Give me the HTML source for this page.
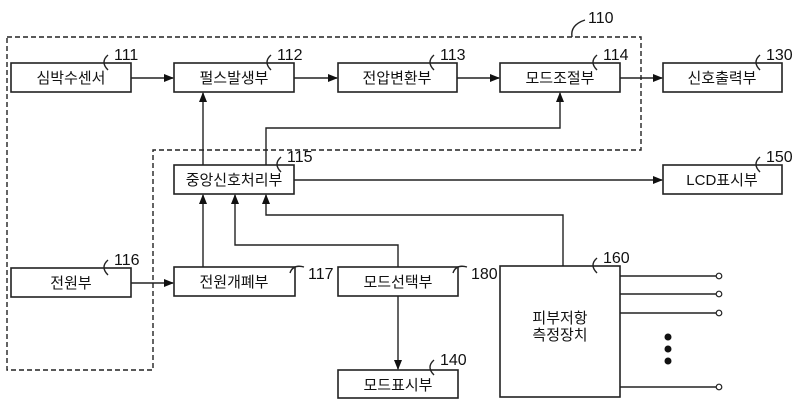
<!DOCTYPE html>
<html><head><meta charset="utf-8"><style>
html,body{margin:0;padding:0;background:#fff;}
svg{display:block;}
text{font-family:"Liberation Sans","Noto Sans CJK KR",sans-serif;fill:#111;}
.b{fill:#fff;stroke:#222;stroke-width:1.6;}
.l{fill:none;stroke:#222;stroke-width:1.4;}
.d{fill:none;stroke:#222;stroke-width:1.4;stroke-dasharray:5,3;}
.t{font-size:15px;text-anchor:middle;}
.n{font-size:16px;}
</style></head><body>
<svg width="800" height="419" viewBox="0 0 800 419" xmlns="http://www.w3.org/2000/svg">
<defs><marker id="a" markerWidth="10" markerHeight="8" refX="9" refY="4" orient="auto" markerUnits="userSpaceOnUse"><path d="M0,0 L10,4 L0,8 z" fill="#111"/></marker></defs>
<path class="d" d="M7,37 H641 V150 H153 V256 L153,370 H7 Z"/>
<path class="l" d="M572,37 Q570,25 585,20"/><text class="n" x="588" y="23">110</text>
<rect class="b" x="11" y="63" width="120" height="29"/><text class="t" x="71" y="83">심박수센서</text>
<rect class="b" x="174" y="63" width="120" height="29"/><text class="t" x="234" y="83">펄스발생부</text>
<rect class="b" x="338" y="63" width="119" height="29"/><text class="t" x="397" y="83">전압변환부</text>
<rect class="b" x="500" y="63" width="120" height="29"/><text class="t" x="560" y="83">모드조절부</text>
<rect class="b" x="663" y="63" width="119" height="29"/><text class="t" x="722" y="83">신호출력부</text>
<rect class="b" x="174" y="165" width="120" height="29"/><text class="t" x="234" y="185">중앙신호처리부</text>
<rect class="b" x="663" y="165" width="119" height="29"/><text class="t" x="722" y="185">LCD표시부</text>
<rect class="b" x="11" y="268" width="120" height="29"/><text class="t" x="71" y="288">전원부</text>
<rect class="b" x="174" y="267" width="121" height="29"/><text class="t" x="234" y="287">전원개폐부</text>
<rect class="b" x="338" y="267" width="120" height="29"/><text class="t" x="398" y="287">모드선택부</text>
<rect class="b" x="338" y="370" width="120" height="28"/><text class="t" x="398" y="390">모드표시부</text>
<rect class="b" x="500" y="266" width="120" height="131"/>
<text class="t" x="560" y="323">피부저항</text><text class="t" x="560" y="340">측정장치</text>
<g class="l">
<path d="M108,70 Q100,62 108,55"/><path d="M271,70 Q263,62 271,55"/><path d="M434,70 Q426,62 434,55"/>
<path d="M597,70 Q589,62 597,55"/><path d="M760,70 Q752,62 760,55"/><path d="M281,172 Q273,164 281,157"/>
<path d="M760,172 Q752,164 760,157"/><path d="M108,275 Q100,267 108,260"/><path d="M290,273 Q293,264 304,267"/>
<path d="M453,273 Q456,264 467,267"/><path d="M434,375 Q426,367 434,360"/><path d="M597,273 Q589,265 597,258"/>
</g>
<text class="n" x="114" y="60">111</text><text class="n" x="277" y="60">112</text><text class="n" x="440" y="60">113</text>
<text class="n" x="603" y="60">114</text><text class="n" x="766" y="60">130</text><text class="n" x="287" y="162">115</text>
<text class="n" x="766" y="162">150</text><text class="n" x="114" y="265">116</text><text class="n" x="308" y="279">117</text>
<text class="n" x="471" y="279">180</text><text class="n" x="440" y="365">140</text><text class="n" x="603" y="263">160</text>
<g class="l">
<path d="M131,78 H173" marker-end="url(#a)"/>
<path d="M294,78 H337" marker-end="url(#a)"/>
<path d="M457,78 H499" marker-end="url(#a)"/>
<path d="M620,78 H662" marker-end="url(#a)"/>
<path d="M203,165 V93" marker-end="url(#a)"/>
<path d="M266,165 V128 H560 V93" marker-end="url(#a)"/>
<path d="M294,180 H662" marker-end="url(#a)"/>
<path d="M203,267 V195" marker-end="url(#a)"/>
<path d="M398,267 V245 H235 V195" marker-end="url(#a)"/>
<path d="M563,266 V215 H266 V195" marker-end="url(#a)"/>
<path d="M131,283 H173" marker-end="url(#a)"/>
<path d="M398,296 V369" marker-end="url(#a)"/>
<path d="M620,276 H716 M620,294 H716 M620,313 H716 M620,387 H716"/>
</g>
<g fill="#fff" stroke="#222" stroke-width="1.2">
<circle cx="719" cy="276" r="2.8"/><circle cx="719" cy="294" r="2.8"/><circle cx="719" cy="313" r="2.8"/><circle cx="719" cy="387" r="2.8"/>
</g>
<g fill="#111"><circle cx="668" cy="337" r="3.5"/><circle cx="668" cy="349" r="3.5"/><circle cx="668" cy="361" r="3.5"/></g>
</svg>
</body></html>
